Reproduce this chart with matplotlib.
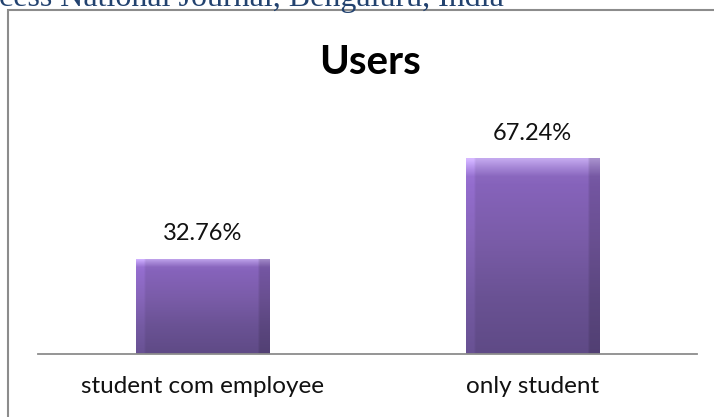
import numpy as np
import matplotlib
matplotlib.use("Agg")
import matplotlib.pyplot as plt
from matplotlib.patches import Rectangle
from matplotlib.colors import LinearSegmentedColormap

categories = ["student com employee", "only student"]
values = [32.76, 67.24]
value_labels = ["32.76%", "67.24%"]
title = "Users"
header = "cess National Journal, Bengaluru, India"

W, H = 714, 417
fig = plt.figure(figsize=(W / 100, H / 100), dpi=100)
fig.patch.set_facecolor("white")

# running header of the page, clipped at the top edge
fig.text(-1 / W, 1 - 6 / H, header, family="Liberation Serif", fontsize=23,
         color="#22426f", ha="left", va="baseline")

# chart frame (open to the right and bottom)
frame = Rectangle((7.5 / W, -0.05), 1.2, 1 - 10 / H + 0.05, transform=fig.transFigure,
                  fill=False, edgecolor="#8c8c8c", linewidth=1.5)
fig.add_artist(frame)

ax = fig.add_axes([38 / W, 63 / H, (697 - 38) / W, (354 - 121) / H])
ax.set_xlim(-0.5, 1.5)
ax.set_ylim(0, 80)
for s in ["left", "right", "top"]:
    ax.spines[s].set_visible(False)
ax.spines["bottom"].set_color("#8c8c8c")
ax.spines["bottom"].set_linewidth(1.3)
ax.set_yticks([])
ax.set_xticks(range(len(categories)))
ax.set_xticklabels(categories, family="Lato", fontsize=17.5, color="#111111")
ax.tick_params(axis="x", length=0, pad=16)

bar_w = 0.404
bars = ax.bar(range(len(categories)), values, width=bar_w, color="none", zorder=2)

# bevelled purple fill: vertical gradient with lighter top edge and shaded sides
body = LinearSegmentedColormap.from_list(
    "body", ["#5f4a86", "#6a5294", "#7a5ca8", "#8663bb", "#a889d8", "#c3a8ee"])
grad_y = np.concatenate([np.linspace(0, 0.62, 90), np.linspace(0.62, 0.8, 6),
                         np.linspace(0.85, 1.0, 4)])[:, None]
col = np.ones((1, 60))
col[0, :4] = 1.10
col[0, -5:] = 0.86
for b in bars:
    x0, w, h = b.get_x(), b.get_width(), b.get_height()
    rgba = body(grad_y)[:, :, :3] * np.ones((1, 60, 1))
    rgba = np.clip(rgba * col[..., None], 0, 1)
    img = ax.imshow(rgba, origin="lower", extent=(x0, x0 + w, 0, h),
                    aspect="auto", zorder=2, interpolation="bilinear")
    img.set_clip_path(b)

for b, lab in zip(bars, value_labels):
    ax.annotate(lab, (b.get_x() + b.get_width() / 2, b.get_height()),
                xytext=(0, 18), textcoords="offset points", ha="center",
                va="center", family="Lato", fontsize=17, color="#111111")

fig.text(370 / W, 1 - 62 / H, title, family="Lato", fontweight="bold",
         fontsize=29, ha="center", va="center", color="black")

fig.savefig("out.png", dpi=100, facecolor="white")
